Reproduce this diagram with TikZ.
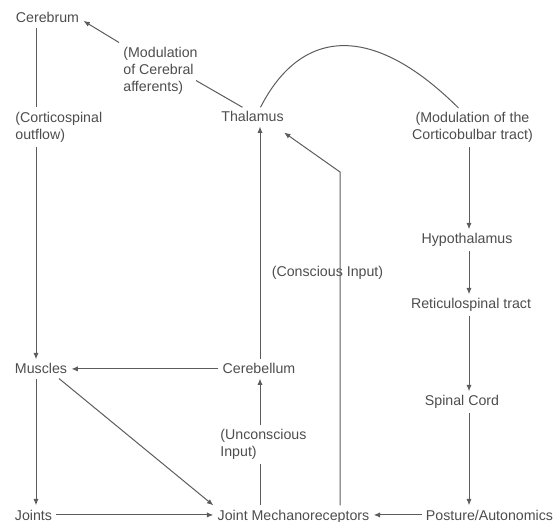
\documentclass[tikz,border=0pt]{standalone}
\usepackage{fontspec}
\setmainfont{Liberation Sans}
\usepackage{tikz}
\usetikzlibrary{arrows.meta, positioning, calc}
\definecolor{labelgray}{HTML}{4D4D4D}
\definecolor{linegray}{HTML}{5C5C5C}

\begin{document}
\begin{tikzpicture}[x=0.5pt, y=-0.5pt,
  label/.style={inner sep=2pt, text=labelgray, font=\fontsize{7.1}{8.5}\selectfont},
  multi/.style={label, align=left, anchor=north west},
  link/.style={draw=linegray, line width=0.5pt},
  arr/.style={link, -{Latex[length=3.2pt, width=2.6pt]}}
]
  \useasboundingbox (0,0) rectangle (555,522);

  \node[label, anchor=base] (cerebrum) at (47.5,23) {Cerebrum};
  \node[multi] (modc) at (119,42.5) {(Modulation\\of Cerebral\\afferents)};
  \node[label, anchor=base] (thal) at (252.5,122) {Thalamus};
  \node[multi] (cortico) at (11,107.5) {(Corticospinal\\outflow)};
  \node[label, align=center, anchor=north] (modb) at (472.5,108) {(Modulation of the\\Corticobulbar tract)};
  \node[label, anchor=base] (hypo) at (467,244) {Hypothalamus};
  \node[label, anchor=base] (retic) at (471,309) {Reticulospinal tract};
  \node[label, anchor=base] (conscious) at (327.5,277) {(Conscious Input)};
  \node[label, anchor=base] (muscles) at (41,374) {Muscles};
  \node[label, anchor=base] (cerebellum) at (259,374) {Cerebellum};
  \node[label, anchor=base] (spinal) at (462,406) {Spinal Cord};
  \node[multi] (uncon) at (216,424.5) {(Unconscious\\Input)};
  \node[label, anchor=base] (joints) at (33.5,520) {Joints};
  \node[label, anchor=base] (jm) at (293.5,520) {Joint Mechanoreceptors};
  \node[label, anchor=base] (posture) at (489.5,520) {Posture/Autonomics};

  \coordinate (lcol) at (36,0);
  \coordinate (mcol) at (260,0);
  \coordinate (rcol) at (469,0);
  \coordinate (bend) at (340,172);

  \draw[link] (cerebrum.south -| lcol) -- (cortico.north -| lcol);
  \draw[arr] (cortico.south -| lcol) -- (muscles.north -| lcol);
  \draw[arr] (muscles.south -| lcol) -- (joints.north -| lcol);
  \draw[arr] (joints.east) -- (joints.east -| jm.west);
  \draw[arr] ([xshift=9pt]muscles.south) -- (jm.north west);
  \draw[arr] (cerebellum.west) -- (cerebellum.west -| muscles.east);

  \draw[link] (jm.north -| mcol) -- (uncon.south -| mcol);
  \draw[arr] (uncon.north -| mcol) -- (cerebellum.south -| mcol);
  \draw[arr] (cerebellum.north -| mcol) -- (thal.south -| mcol);
  \draw[arr] (jm.north -| bend) -- (bend) -- ([xshift=-2pt, yshift=-3pt]thal.south east);

  \draw[link] ([xshift=-5pt]thal.north) -- ([xshift=-3pt, yshift=-5pt]modc.east);
  \draw[arr] (modc.north west) -- ([yshift=-1.5pt]cerebrum.east);
  \draw[link] ([xshift=4pt]thal.north) .. controls (300,30) and (370,20) .. ([xshift=-7pt]modb.north);

  \draw[arr] (modb.south -| rcol) -- (hypo.north -| rcol);
  \draw[arr] (hypo.south -| rcol) -- (retic.north -| rcol);
  \draw[arr] (retic.south -| rcol) -- (spinal.north -| rcol);
  \draw[arr] (spinal.south -| rcol) -- (posture.north -| rcol);
  \draw[arr] (posture.west) -- (posture.west -| jm.east);
\end{tikzpicture}
\end{document}
